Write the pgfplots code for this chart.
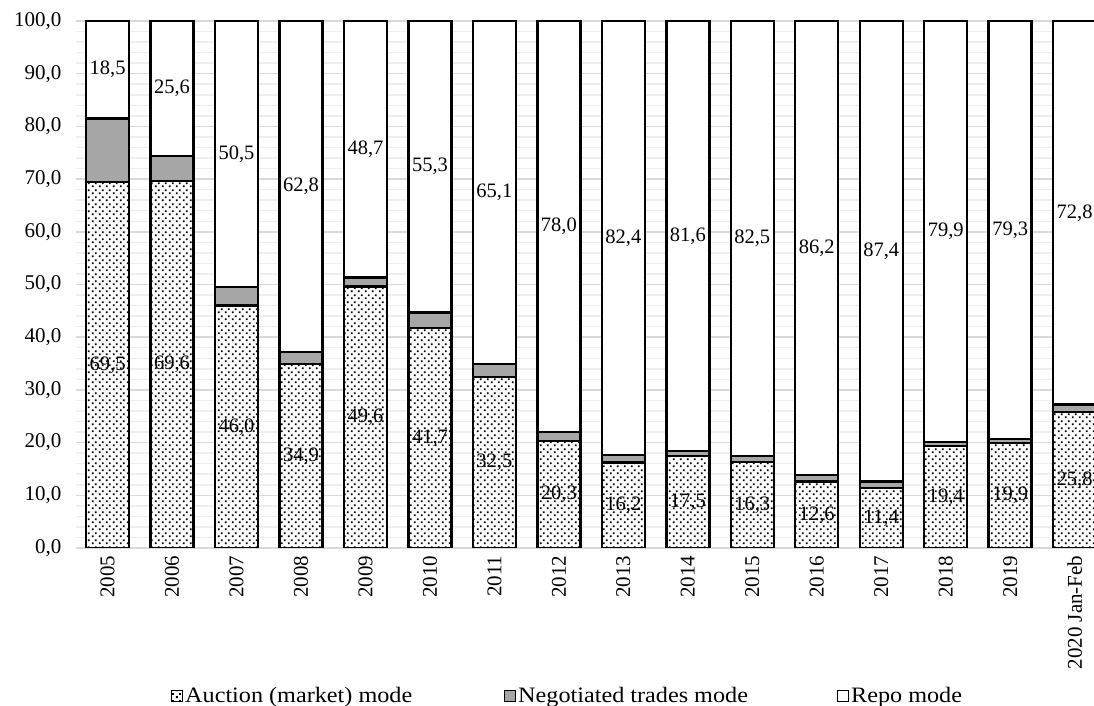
\documentclass[border=0pt]{standalone}
\usepackage{fontspec}
\setmainfont{Liberation Serif}
\usepackage{graphicx}
\usepackage{pgfplots}
\pgfplotsset{compat=1.18}
\usepackage{pgfplotstable}
\usetikzlibrary{patterns}

\definecolor{negogrey}{RGB}{166,166,166}
\definecolor{majgrid}{RGB}{217,217,217}
\definecolor{mingrid}{RGB}{238,238,238}

% sparse dot fill like the Excel pattern
\pgfdeclarepatternformonly{auctiondots}{\pgfqpoint{0pt}{0pt}}{\pgfqpoint{7pt}{7pt}}{\pgfqpoint{7pt}{7pt}}{%
  \pgfpathrectangle{\pgfqpoint{1pt}{1pt}}{\pgfqpoint{2pt}{2pt}}%
  \pgfpathrectangle{\pgfqpoint{4.5pt}{4.5pt}}{\pgfqpoint{2pt}{2pt}}%
  \pgfusepath{fill}}

\pgfkeys{/pgf/number format/.cd, use comma, fixed, fixed zerofill, precision=1, assume math mode=true}

% shares of trading modes, percent
\pgfplotstableread{
x  auc  neg  repo
0  69.5 12.0 18.5
1  69.6 4.8  25.6
2  46.0 3.5  50.5
3  34.9 2.3  62.8
4  49.6 1.7  48.7
5  41.7 3.0  55.3
6  32.5 2.4  65.1
7  20.3 1.7  78.0
8  16.2 1.4  82.4
9  17.5 0.9  81.6
10 16.3 1.2  82.5
11 12.6 1.2  86.2
12 11.4 1.2  87.4
13 19.4 0.7  79.9
14 19.9 0.8  79.3
15 25.8 1.4  72.8
}\shares

\pgfplotsset{
  frame/.style={scale only axis, width=1018pt, height=527pt,
    xmin=-0.49, xmax=15.30, ymin=0, ymax=100},
  legsq/.style={legend image code/.code={\draw[##1, line width=1pt] (0pt,-5.5pt) rectangle (11pt,5.5pt);}},
}
\newcommand{\legtext}[2]{\makebox[#1][l]{\scalebox{1.1}[1]{#2}}}

\begin{document}
\begin{tikzpicture}
\begin{axis}[frame,
    ybar stacked, bar width=0.667,
    axis line style={draw=none},
    major tick length=0pt, minor tick length=0pt,
    ytick={0,10,...,100}, minor y tick num=4,
    ymajorgrids, yminorgrids,
    major grid style={majgrid, line width=1.5pt},
    minor grid style={mingrid, line width=1.5pt},
    xtick={0,...,15},
    xticklabels={2005,2006,2007,2008,2009,2010,2011,2012,2013,2014,2015,2016,2017,2018,2019,2020 Jan-Feb},
    xticklabel style={rotate=90, anchor=east, font=\fontsize{21}{25}\selectfont},
    xticklabel shift=4pt,
    yticklabel style={font=\fontsize{21}{25}\selectfont},
    yticklabel shift=11pt,
    legend columns=3,
    legend cell align=left,
    legend style={at={(0.0933,-0.281)}, anchor=west, draw=none, inner sep=0pt,
      font=\fontsize{22}{26}\selectfont,
      /tikz/every even column/.append style={column sep=0pt}},
]
\addplot[fill=white, draw=black, line width=2.4pt, postaction={pattern=auctiondots}, legsq]
  table[x=x, y=auc]{\shares};
\addplot[fill=negogrey, draw=black, line width=2.4pt, legsq]
  table[x=x, y=neg]{\shares};
\addplot[fill=white, draw=black, line width=2.4pt, legsq]
  table[x=x, y=repo]{\shares};
\legend{\legtext{317pt}{Auction (market) mode},\legtext{317pt}{Negotiated trades mode},\legtext{120pt}{Repo mode}}
\coordinate (sw) at (rel axis cs:0,0);
\coordinate (ne) at (rel axis cs:1,1);
\end{axis}
% value labels in the middle of the auction and repo segments
\begin{axis}[frame, hide axis]
\addplot[draw=none, mark=none, nodes near coords, point meta=explicit,
    every node near coord/.append style={anchor=center, font=\fontsize{20.5}{24}\selectfont}]
  table[x=x, y expr=\thisrow{auc}/2, meta=auc]{\shares};
\addplot[draw=none, mark=none, nodes near coords, point meta=explicit,
    every node near coord/.append style={anchor=center, font=\fontsize{20.5}{24}\selectfont}]
  table[x=x, y expr=100-\thisrow{repo}/2, meta=repo]{\shares};
\end{axis}
\pgfresetboundingbox
\path (sw) ++(-76pt,-158pt) rectangle ([yshift=21pt]ne);
\end{tikzpicture}
\end{document}
